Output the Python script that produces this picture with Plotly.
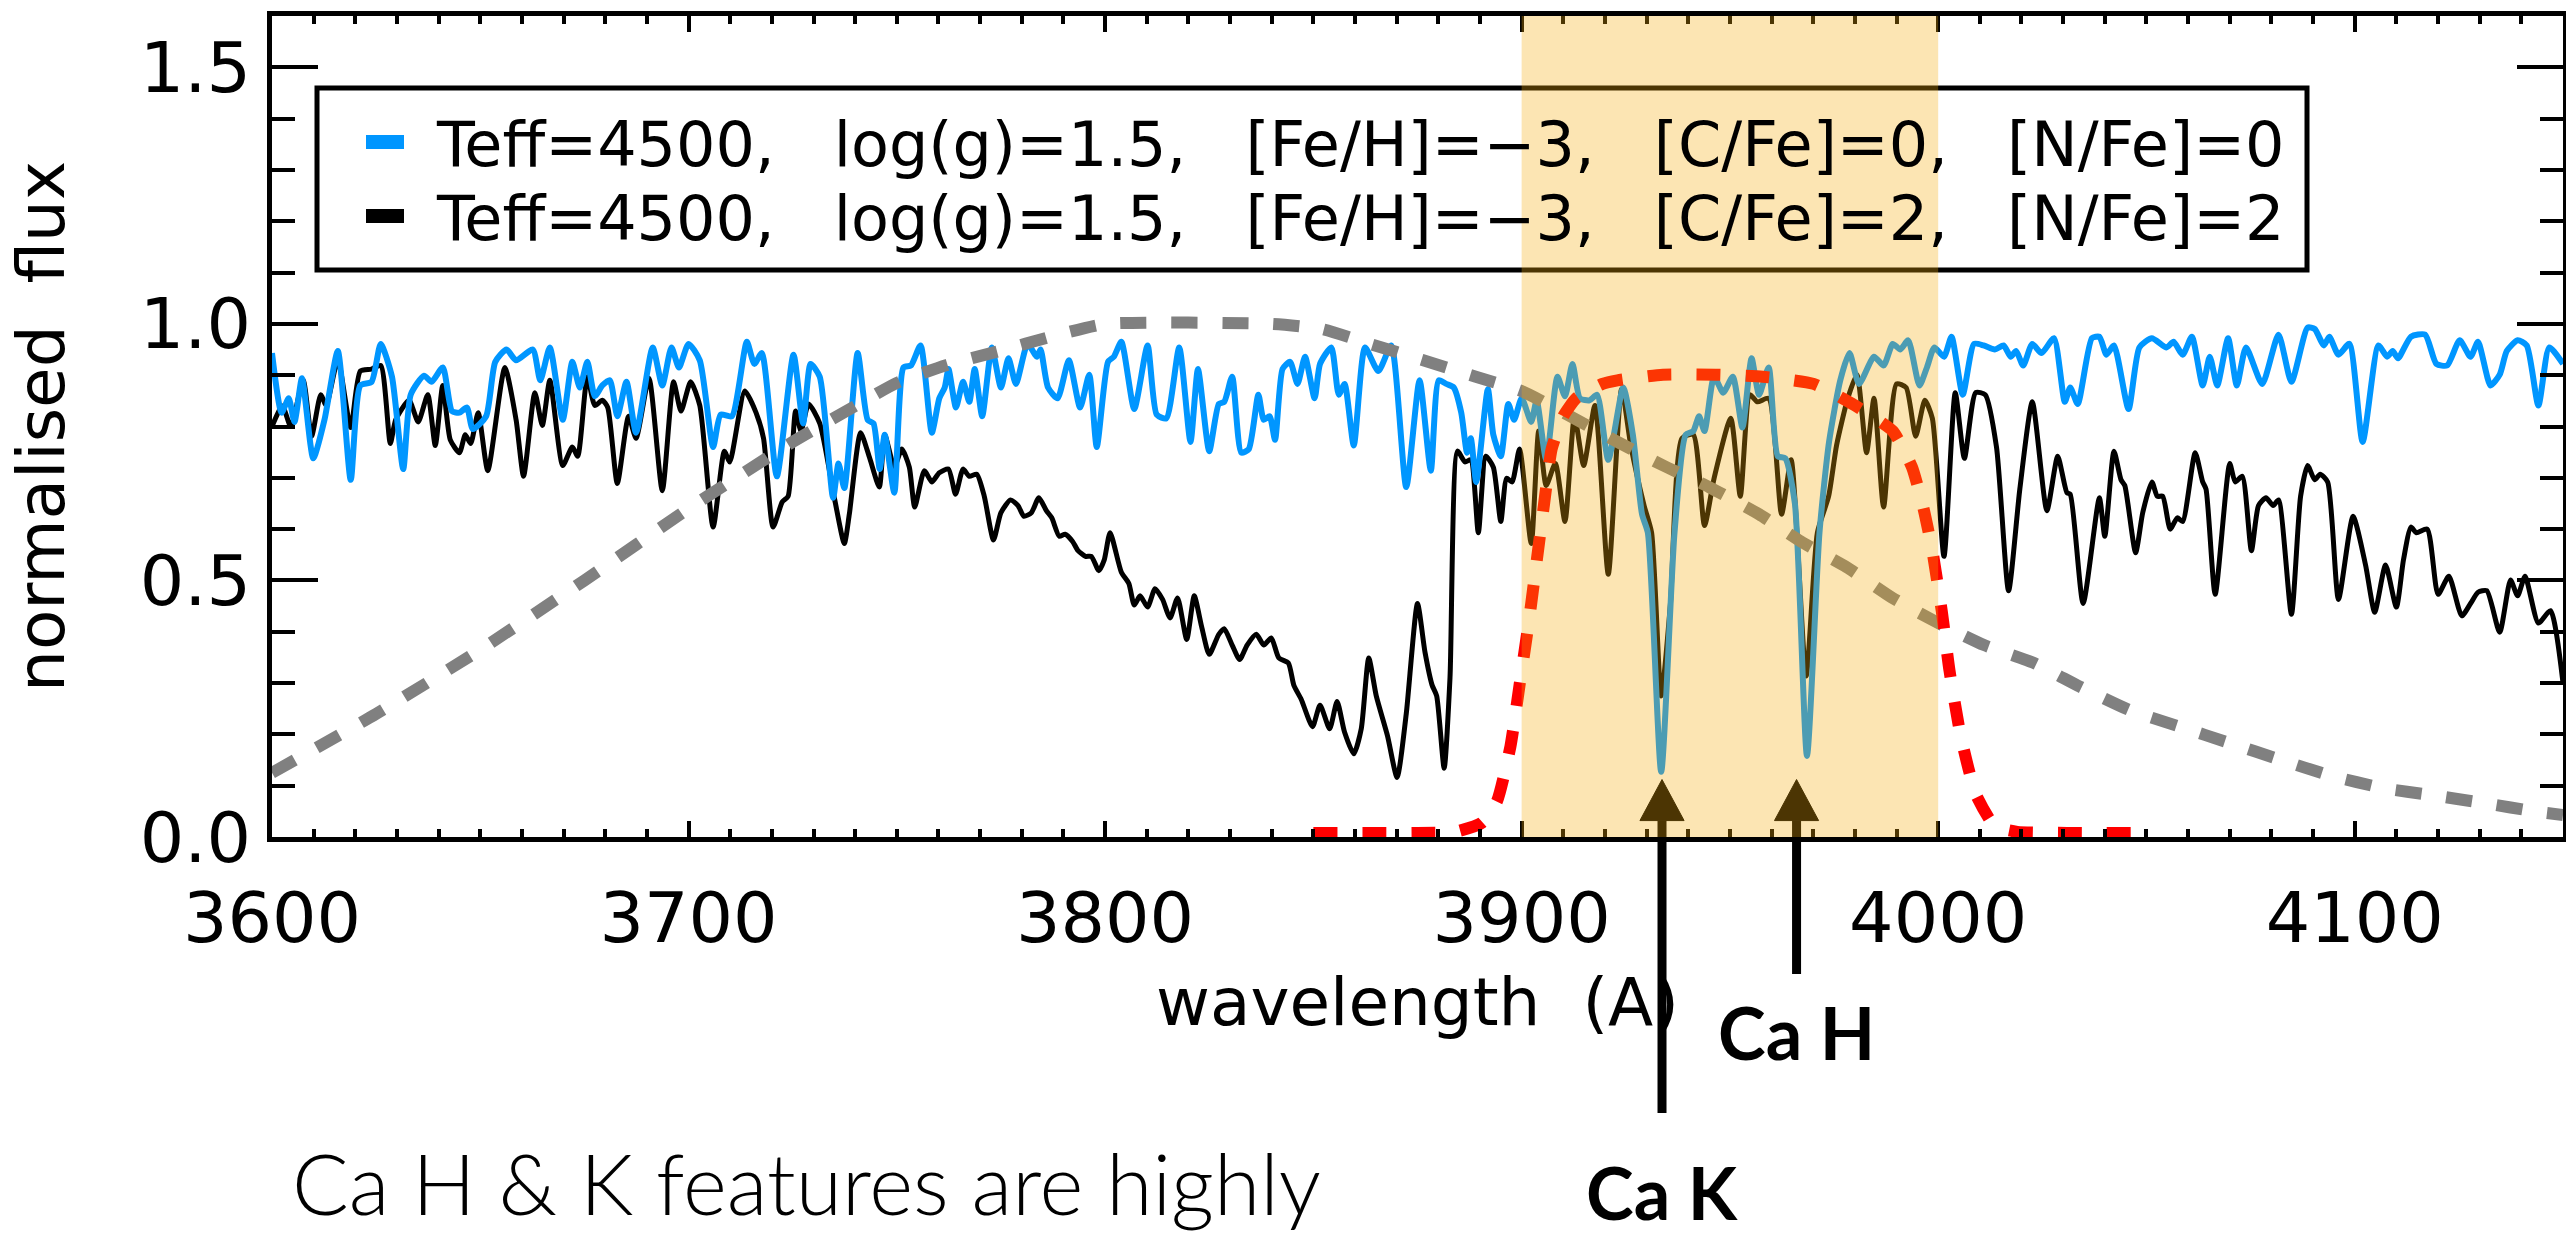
import plotly.graph_objects as go

# ---------------- data ----------------
wl_blue = [3600.0, 3602.3, 3604.0, 3605.4, 3607.2, 3609.9, 3612.6, 3615.8, 3618.9, 3621.2, 3623.9, 3626.1, 3628.8,
           3631.5, 3633.3, 3636.5, 3638.3, 3641.0, 3643.2, 3645.0, 3646.8, 3648.2, 3651.4, 3653.6, 3656.3, 3658.6,
           3662.6, 3664.4, 3666.7, 3669.8, 3672.1, 3673.9, 3675.7, 3677.5, 3679.3, 3681.1, 3682.9, 3685.1, 3687.4,
           3691.4, 3693.7, 3695.9, 3697.7, 3700.0, 3702.7, 3705.9, 3707.7, 3710.4, 3714.0, 3715.8, 3717.6, 3721.2,
           3725.2, 3727.5, 3729.3, 3731.5, 3734.7, 3736.0, 3737.4, 3740.6, 3743.0, 3744.4, 3745.9, 3747.1, 3749.4,
           3751.6, 3753.4, 3755.7, 3758.4, 3760.2, 3761.5, 3762.4, 3764.2, 3765.9, 3767.4, 3768.7, 3770.5, 3772.8,
           3775.0, 3776.8, 3778.6, 3781.4, 3783.6, 3784.5, 3786.3, 3788.6, 3791.3, 3794.0, 3796.2, 3798.0, 3800.7,
           3802.1, 3803.9, 3807.0, 3810.2, 3812.4, 3814.7, 3817.8, 3820.5, 3822.3, 3825.0, 3827.3, 3828.6, 3830.5,
           3832.7, 3834.5, 3836.8, 3838.1, 3839.5, 3840.8, 3842.6, 3844.4, 3846.2, 3848.0, 3850.3, 3851.6, 3854.3,
           3856.1, 3857.5, 3859.7, 3862.4, 3865.6, 3868.7, 3872.3, 3875.5, 3878.2, 3880.1, 3881.9, 3883.7, 3885.5,
           3886.9, 3887.8, 3889.1, 3891.9, 3893.2, 3895.0, 3896.8, 3898.2, 3900.0, 3902.3, 3903.6, 3905.9, 3908.6,
           3910.4, 3912.2, 3914.0, 3916.3, 3918.1, 3920.8, 3924.4, 3926.7, 3928.9, 3930.3, 3933.5, 3936.7, 3939.4,
           3941.2, 3942.6, 3943.9, 3946.2, 3948.4, 3950.7, 3953.0, 3955.2, 3957.0, 3959.3, 3961.5, 3963.3, 3965.6,
           3968.5, 3971.5, 3973.8, 3976.5, 3978.7, 3981.0, 3984.6, 3986.9, 3989.1, 3990.9, 3992.8, 3995.5, 3997.3,
           3999.1, 4001.4, 4003.2, 4005.9, 4008.6, 4010.9, 4013.6, 4015.7, 4017.4, 4018.7, 4020.4, 4022.6, 4024.8,
           4027.8, 4030.4, 4031.7, 4033.5, 4036.9, 4038.7, 4040.4, 4042.2, 4045.7, 4048.3, 4051.3, 4054.8, 4056.5,
           4058.7, 4060.9, 4063.5, 4065.2, 4067.0, 4069.6, 4071.7, 4073.9, 4077.8, 4081.7, 4084.8, 4088.7, 4090.4,
           4092.6, 4093.9, 4096.1, 4098.7, 4101.9, 4105.7, 4107.8, 4109.1, 4110.4, 4113.5, 4116.9, 4119.6, 4122.2,
           4125.2, 4127.8, 4129.6, 4132.6, 4134.8, 4136.5, 4139.1, 4141.3, 4144.1, 4146.7, 4150.0]
flux_blue = [0.943, 0.827, 0.855, 0.809, 0.894, 0.738, 0.813, 0.947, 0.696, 0.880, 0.887, 0.961, 0.897,
             0.717, 0.862, 0.899, 0.887, 0.915, 0.830, 0.827, 0.837, 0.795, 0.820, 0.926, 0.950, 0.929,
             0.950, 0.890, 0.954, 0.813, 0.926, 0.876, 0.926, 0.859, 0.880, 0.890, 0.820, 0.887, 0.788,
             0.954, 0.880, 0.954, 0.915, 0.961, 0.929, 0.760, 0.823, 0.820, 0.965, 0.922, 0.943, 0.703,
             0.940, 0.806, 0.922, 0.897, 0.661, 0.728, 0.680, 0.943, 0.813, 0.806, 0.717, 0.784, 0.671,
             0.915, 0.919, 0.958, 0.788, 0.855, 0.876, 0.912, 0.837, 0.887, 0.848, 0.912, 0.820, 0.954,
             0.876, 0.933, 0.883, 0.961, 0.936, 0.950, 0.876, 0.855, 0.929, 0.837, 0.901, 0.760, 0.926,
             0.936, 0.965, 0.834, 0.958, 0.823, 0.816, 0.954, 0.770, 0.912, 0.752, 0.844, 0.848, 0.897,
             0.749, 0.756, 0.862, 0.813, 0.820, 0.774, 0.912, 0.926, 0.883, 0.936, 0.855, 0.922, 0.954,
             0.862, 0.883, 0.763, 0.954, 0.908, 0.958, 0.682, 0.890, 0.714, 0.890, 0.883, 0.876, 0.827,
             0.749, 0.777, 0.692, 0.873, 0.784, 0.742, 0.844, 0.813, 0.855, 0.809, 0.851, 0.735, 0.897,
             0.859, 0.922, 0.855, 0.851, 0.862, 0.735, 0.876, 0.784, 0.629, 0.593, 0.127, 0.593, 0.784,
             0.791, 0.820, 0.791, 0.897, 0.866, 0.897, 0.798, 0.933, 0.862, 0.915, 0.742, 0.738, 0.650,
             0.158, 0.593, 0.770, 0.890, 0.943, 0.883, 0.936, 0.919, 0.961, 0.950, 0.968, 0.880, 0.915,
             0.954, 0.936, 0.975, 0.862, 0.961, 0.958, 0.950, 0.958, 0.936, 0.947, 0.919, 0.961, 0.943,
             0.972, 0.848, 0.876, 0.844, 0.972, 0.975, 0.940, 0.958, 0.834, 0.954, 0.972, 0.954, 0.965,
             0.940, 0.975, 0.880, 0.936, 0.880, 0.972, 0.880, 0.954, 0.883, 0.979, 0.887, 0.993, 0.990,
             0.958, 0.975, 0.940, 0.961, 0.770, 0.958, 0.936, 0.947, 0.933, 0.975, 0.979, 0.922, 0.919,
             0.968, 0.936, 0.965, 0.880, 0.901, 0.947, 0.968, 0.958, 0.841, 0.954, 0.922]

wl_black = [3600.0, 3602.5, 3604.5, 3607.5, 3609.5, 3611.7, 3613.0, 3615.8, 3618.9, 3621.2, 3623.9, 3626.1, 3628.4,
            3629.7, 3632.9, 3635.1, 3637.4, 3639.2, 3641.0, 3642.8, 3645.0, 3646.4, 3647.7, 3649.5, 3651.8, 3655.9,
            3658.6, 3660.4, 3663.1, 3664.9, 3666.7, 3669.8, 3672.1, 3673.4, 3675.7, 3677.5, 3679.3, 3680.6, 3682.9,
            3685.6, 3687.4, 3690.5, 3693.7, 3696.4, 3698.2, 3700.5, 3702.7, 3705.9, 3708.6, 3709.9, 3713.5, 3716.2,
            3718.0, 3720.3, 3722.5, 3723.9, 3725.7, 3727.0, 3728.8, 3731.5, 3735.1, 3737.4, 3738.6, 3741.3, 3743.5,
            3745.8, 3747.1, 3749.4, 3751.2, 3753.0, 3754.3, 3756.6, 3758.4, 3760.2, 3762.4, 3764.1, 3765.9, 3767.4,
            3769.2, 3771.0, 3773.2, 3775.0, 3777.3, 3779.1, 3780.5, 3782.3, 3784.1, 3785.9, 3787.2, 3789.0, 3790.4,
            3792.2, 3793.5, 3795.3, 3796.7, 3798.5, 3799.8, 3801.2, 3803.9, 3805.7, 3807.0, 3808.4, 3810.2, 3812.0,
            3813.8, 3815.6, 3817.4, 3819.6, 3821.4, 3823.2, 3825.0, 3827.3, 3828.6, 3830.5, 3832.3, 3834.1, 3836.3,
            3838.1, 3839.9, 3841.7, 3844.0, 3845.3, 3847.1, 3849.8, 3851.6, 3853.9, 3855.7, 3857.5, 3859.7, 3861.5,
            3863.3, 3865.1, 3867.8, 3870.1, 3872.3, 3875.0, 3876.8, 3878.5, 3879.6, 3881.4, 3882.8, 3884.6, 3886.4,
            3887.8, 3889.6, 3891.4, 3893.2, 3895.0, 3896.4, 3897.7, 3899.5, 3902.3, 3904.1, 3905.9, 3908.1, 3910.4,
            3912.7, 3914.9, 3917.6, 3920.8, 3924.0, 3926.2, 3929.4, 3931.2, 3933.5, 3935.7, 3938.5, 3941.2, 3943.9,
            3946.2, 3950.2, 3952.5, 3954.8, 3956.6, 3959.3, 3962.4, 3964.7, 3968.3, 3971.0, 3973.7, 3975.6, 3978.3,
            3980.5, 3982.8, 3984.6, 3986.9, 3990.0, 3992.3, 3994.6, 3996.8, 3998.6, 4001.4, 4004.1, 4006.3, 4009.0,
            4011.3, 4014.0, 4016.9, 4019.6, 4022.6, 4026.1, 4028.7, 4030.9, 4031.7, 4034.8, 4038.7, 4040.0, 4042.2,
            4043.9, 4044.8, 4047.4, 4049.1, 4051.3, 4052.6, 4053.9, 4055.7, 4057.4, 4058.7, 4061.7, 4063.5, 4064.3,
            4066.5, 4070.0, 4071.3, 4073.0, 4075.2, 4076.9, 4078.7, 4080.4, 4081.7, 4084.8, 4087.0, 4088.7, 4090.4,
            4091.7, 4093.5, 4096.1, 4099.6, 4102.6, 4104.8, 4107.4, 4110.0, 4111.7, 4113.5, 4114.8, 4117.4, 4120.0,
            4122.6, 4125.7, 4127.8, 4129.6, 4131.7, 4134.8, 4137.4, 4139.1, 4140.9, 4144.1, 4147.0, 4150.0]
flux_black = [0.800, 0.840, 0.800, 0.890, 0.781, 0.862, 0.841, 0.929, 0.798, 0.908, 0.912, 0.919, 0.767,
              0.813, 0.851, 0.809, 0.862, 0.763, 0.880, 0.774, 0.749, 0.784, 0.767, 0.827, 0.714, 0.915,
              0.813, 0.703, 0.866, 0.802, 0.890, 0.724, 0.760, 0.742, 0.897, 0.841, 0.851, 0.837, 0.689,
              0.820, 0.777, 0.894, 0.675, 0.887, 0.830, 0.887, 0.841, 0.604, 0.752, 0.731, 0.869, 0.827,
              0.777, 0.604, 0.653, 0.664, 0.830, 0.791, 0.844, 0.806, 0.657, 0.572, 0.629, 0.788, 0.738,
              0.682, 0.784, 0.721, 0.756, 0.721, 0.643, 0.714, 0.692, 0.710, 0.717, 0.668, 0.717, 0.703,
              0.707, 0.664, 0.579, 0.632, 0.657, 0.646, 0.625, 0.632, 0.661, 0.636, 0.622, 0.586, 0.590,
              0.576, 0.558, 0.547, 0.547, 0.519, 0.540, 0.593, 0.516, 0.494, 0.452, 0.470, 0.448, 0.484,
              0.463, 0.427, 0.466, 0.385, 0.470, 0.409, 0.356, 0.395, 0.406, 0.374, 0.346, 0.374, 0.395,
              0.374, 0.388, 0.349, 0.339, 0.296, 0.268, 0.215, 0.257, 0.211, 0.264, 0.204, 0.162, 0.211,
              0.349, 0.275, 0.197, 0.116, 0.240, 0.455, 0.360, 0.296, 0.275, 0.134, 0.310, 0.752, 0.731,
              0.735, 0.593, 0.742, 0.721, 0.615, 0.699, 0.692, 0.756, 0.572, 0.791, 0.685, 0.728, 0.615,
              0.820, 0.724, 0.841, 0.512, 0.873, 0.763, 0.646, 0.593, 0.275, 0.452, 0.777, 0.784, 0.607,
              0.699, 0.816, 0.664, 0.862, 0.848, 0.855, 0.629, 0.735, 0.314, 0.593, 0.664, 0.763, 0.855,
              0.901, 0.749, 0.855, 0.643, 0.883, 0.876, 0.781, 0.851, 0.816, 0.547, 0.866, 0.738, 0.866,
              0.862, 0.760, 0.480, 0.678, 0.848, 0.636, 0.742, 0.671, 0.668, 0.455, 0.661, 0.586, 0.752,
              0.696, 0.685, 0.554, 0.632, 0.692, 0.664, 0.664, 0.600, 0.622, 0.615, 0.749, 0.692, 0.678,
              0.473, 0.728, 0.692, 0.703, 0.558, 0.646, 0.661, 0.646, 0.657, 0.434, 0.664, 0.724, 0.696,
              0.707, 0.692, 0.463, 0.625, 0.530, 0.438, 0.530, 0.448, 0.540, 0.604, 0.593, 0.600, 0.473,
              0.508, 0.431, 0.455, 0.477, 0.480, 0.399, 0.501, 0.470, 0.508, 0.417, 0.441, 0.300]

wl_gray = [3600, 3625, 3650, 3675, 3700, 3725, 3740, 3750, 3762, 3775, 3787, 3800, 3840, 3852, 3864, 3876,
           3889, 3900, 3911, 3923, 3934, 3945, 3957, 3967, 3978, 3989, 4000, 4011, 4023, 4034, 4046, 4058,
           4070, 4082, 4094, 4107, 4119, 4131, 4144, 4150]
resp_gray = [0.125, 0.240, 0.365, 0.500, 0.640, 0.770, 0.840, 0.885, 0.920, 0.948, 0.975, 1.000, 1.000, 0.990,
             0.960, 0.930, 0.897, 0.869, 0.823, 0.770, 0.724, 0.682, 0.629, 0.576, 0.526, 0.466, 0.417, 0.374,
             0.339, 0.293, 0.247, 0.215, 0.183, 0.151, 0.120, 0.095, 0.081, 0.066, 0.049, 0.043]

wl_red = [3850, 3862, 3875, 3884, 3890.5, 3894.1, 3897.3, 3899.5, 3901.8, 3903.6, 3905.4, 3907.2, 3910.0,
          3913.1, 3919.4, 3923.0, 3933.9, 3946.6, 3957.9, 3970.1, 3980.0, 3989.1, 3993.7, 3996.4, 3998.6,
          4000.9, 4002.7, 4005.4, 4009.0, 4013.6, 4019.0, 4031.0, 4048.0]
resp_red = [0.008, 0.008, 0.008, 0.010, 0.028, 0.070, 0.176, 0.296, 0.424, 0.537, 0.650, 0.756, 0.820,
            0.855, 0.883, 0.890, 0.901, 0.901, 0.897, 0.883, 0.841, 0.791, 0.721, 0.643, 0.558,
            0.438, 0.325, 0.197, 0.084, 0.021, 0.010, 0.008, 0.008]

label_blue = "Teff=4500,   log(g)=1.5,   [Fe/H]=\u22123,   [C/Fe]=0,   [N/Fe]=0"
label_black = "Teff=4500,   log(g)=1.5,   [Fe/H]=\u22123,   [C/Fe]=2,   [N/Fe]=2"

band_range = [3900, 4000]
ca_k = 3933.7
ca_h = 3966.0

x_ticks = [3600, 3700, 3800, 3900, 4000, 4100]
y_ticks = [0.0, 0.5, 1.0, 1.5]

# ---------------- styles / layout geometry ----------------
BLUE = "rgb(0,150,255)"
BLACK = "black"
GRAY = "rgb(128,128,128)"
RED = "rgb(255,0,0)"
IDL_FONT = "DejaVu Sans"

W, H = 2566, 1255
M_L, M_R, M_T, M_B = 272, 3, 16, 418
PW = W - M_L - M_R
PH = H - M_T - M_B
Y_MAX = 1.6


def px_x(px):
    return (px - M_L) / PW


def px_y(py):
    return (H - M_B - py) / PH


fig = go.Figure()

fig.add_trace(go.Scatter(x=wl_black, y=flux_black, mode="lines", name=label_black, showlegend=False,
                         line=dict(color=BLACK, width=5, shape="spline", smoothing=0.6)))
fig.add_trace(go.Scatter(x=wl_blue, y=flux_blue, mode="lines", name=label_blue, showlegend=False,
                         line=dict(color=BLUE, width=6, shape="spline", smoothing=0.6)))
fig.add_trace(go.Scatter(x=wl_gray, y=resp_gray, mode="lines", showlegend=False, cliponaxis=False,
                         line=dict(color=GRAY, width=12, dash="26px,25px", shape="spline", smoothing=0.5)))
fig.add_trace(go.Scatter(x=wl_red, y=resp_red, mode="lines", showlegend=False, cliponaxis=False,
                         line=dict(color=RED, width=12, dash="24px,25px", shape="spline", smoothing=0.5)))

# ---------------- legend box (drawn under the highlight band) ----------------
shapes = [dict(type="rect", xref="paper", yref="paper", x0=px_x(317), x1=px_x(2307), y0=px_y(270), y1=px_y(88),
               line=dict(color="black", width=5), fillcolor="rgba(0,0,0,0)", layer="above")]
legend_rows = [(label_blue, BLUE, 142), (label_black, BLACK, 216)]
annotations = []
for text, colr, yc in legend_rows:
    shapes.append(dict(type="rect", xref="paper", yref="paper", x0=px_x(366), x1=px_x(404),
                       y0=px_y(yc + 7), y1=px_y(yc - 7), fillcolor=colr, line=dict(width=0), layer="above"))
    annotations.append(dict(text=text, x=px_x(434), xref="paper", y=px_y(yc + 2), yref="paper",
                            showarrow=False, xanchor="left", yanchor="middle",
                            font=dict(family=IDL_FONT, size=62, color="black")))

# ---------------- arrows ----------------
HEAD_BASE = 0.032
HEAD_TIP = 0.112
HEAD_HALF = 5.3  # Angstrom


def arrow_shapes(xpos, bottom_paper):
    return [
        dict(type="line", xref="x", yref="paper", x0=xpos, x1=xpos,
             y0=bottom_paper, y1=HEAD_BASE / Y_MAX, line=dict(color="black", width=9), layer="above"),
        dict(type="path", xref="x", yref="paper",
             path=f"M{xpos - HEAD_HALF},{HEAD_BASE / Y_MAX} L{xpos + HEAD_HALF},{HEAD_BASE / Y_MAX} "
                  f"L{xpos},{HEAD_TIP / Y_MAX} Z",
             fillcolor="black", line=dict(color="black", width=1), layer="above"),
    ]


shapes += arrow_shapes(ca_k, px_y(1113)) + arrow_shapes(ca_h, px_y(974))
# translucent highlight band on top of everything in the plot
shapes.append(dict(type="rect", xref="x", yref="paper", x0=band_range[0], x1=band_range[1], y0=0, y1=1,
                   fillcolor="rgba(246,171,10,0.31)", line=dict(width=0), layer="above"))

annotations += [
    dict(text="Ca K", x=ca_k, xref="x", y=px_y(1192), yref="paper", showarrow=False,
         xanchor="center", yanchor="middle",
         font=dict(family="Lato", size=72, color="black", weight=700)),
    dict(text="Ca H", x=ca_h, xref="x", y=px_y(1032), yref="paper", showarrow=False,
         xanchor="center", yanchor="middle",
         font=dict(family="Lato", size=72, color="black", weight=700)),
    dict(text="Ca H &amp; K features are highly", x=px_x(290), xref="paper", y=px_y(1182), yref="paper",
         showarrow=False, xanchor="left", yanchor="middle",
         font=dict(family="Lato", size=84, color="black", weight=300)),
]

axis_common = dict(showline=True, linewidth=5, linecolor="black", mirror="allticks", showgrid=False,
                   zeroline=False, ticks="inside", tickwidth=4, tickcolor="black", automargin=False,
                   tickfont=dict(family=IDL_FONT, size=70, color="black"))

fig.update_layout(
    width=W, height=H, autosize=False,
    margin=dict(l=M_L, r=M_R, t=M_T, b=M_B),
    plot_bgcolor="white", paper_bgcolor="white",
    font=dict(family=IDL_FONT, color="black"),
    showlegend=False,
    xaxis=dict(range=[3600, 4150], tickvals=x_ticks, ticklen=16, ticklabelstandoff=16,
               minor=dict(dtick=10, tick0=3600, ticks="inside", ticklen=8, tickwidth=4, tickcolor="black",
                          showgrid=False),
               title=dict(text="wavelength  (A)", font=dict(family=IDL_FONT, size=66), standoff=22),
               **axis_common),
    yaxis=dict(range=[0, Y_MAX], tickvals=y_ticks, tickformat=".1f", ticklen=46, ticklabelstandoff=2,
               minor=dict(dtick=0.1, tick0=0, ticks="inside", ticklen=23, tickwidth=4, tickcolor="black",
                          showgrid=False),
               title=dict(text="normalised  flux", font=dict(family=IDL_FONT, size=66), standoff=55),
               **axis_common),
    shapes=shapes,
    annotations=annotations,
)

fig.write_html("out.html")
